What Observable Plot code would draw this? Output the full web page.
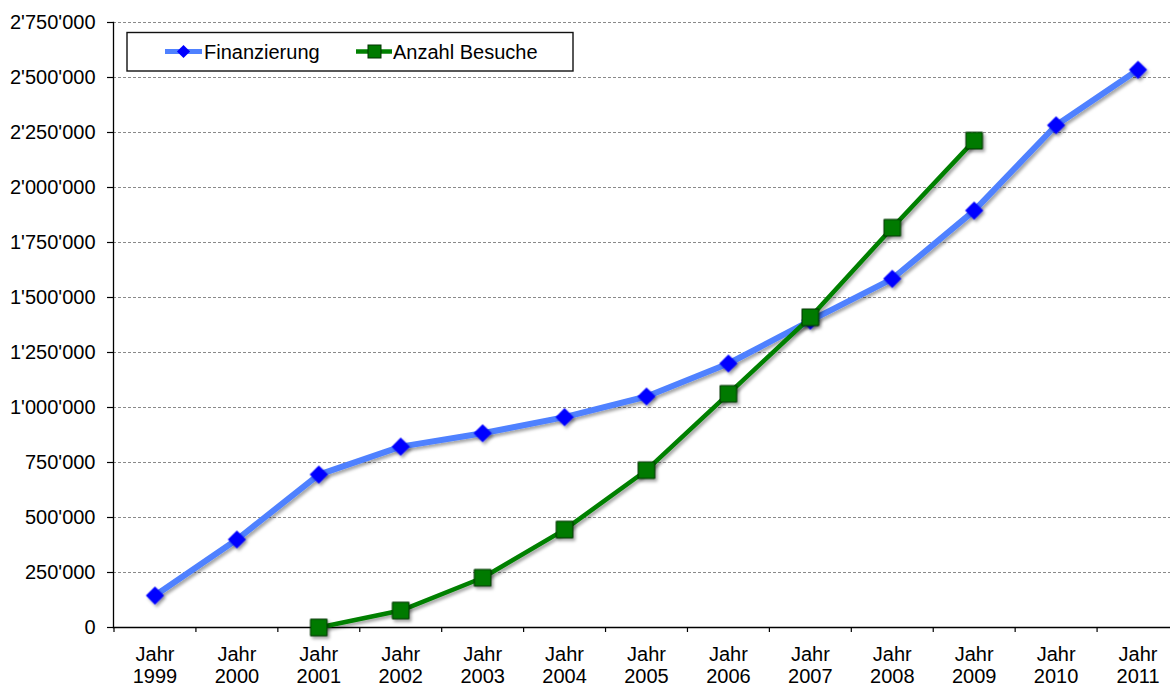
<!DOCTYPE html>
<html>
<head>
<meta charset="utf-8">
<script src="https://cdn.jsdelivr.net/npm/d3@7"></script>
<script src="https://cdn.jsdelivr.net/npm/@observablehq/plot@0.6"></script>
<style>
  html, body { margin: 0; padding: 0; background: #fff; overflow: hidden; }
  #wrap { position: relative; width: 1170px; height: 687px; }
  #legend { position: absolute; left: 0; top: 0; pointer-events: none; }
</style>
</head>
<body>
<div id="wrap"></div>
<script>
// ---- data ----
const years = [1999, 2000, 2001, 2002, 2003, 2004, 2005, 2006, 2007, 2008, 2009, 2010, 2011];
const finanzierung = [145000, 400000, 695000, 822000, 883000, 956000, 1050000, 1200000, 1395000, 1585000, 1895000, 2283000, 2535000];
const besucheYears = [2001, 2002, 2003, 2004, 2005, 2006, 2007, 2008, 2009];
const besuche = [0, 77000, 226000, 445000, 715000, 1062000, 1410000, 1817000, 2213000];
const yTicks = [0, 250000, 500000, 750000, 1000000, 1250000, 1500000, 1750000, 2000000, 2250000, 2500000, 2750000];
const seriesNames = ["Finanzierung", "Anzahl Besuche"];

const finRows = years.map((year, i) => ({year, value: finanzierung[i]}));
const besRows = besucheYears.map((year, i) => ({year, value: besuche[i]}));
const boundaries = [...years.map(y => y - 0.5), years[years.length - 1] + 0.5];
const fmt = d => d3.format(",")(d).replace(/,/g, "'");

const blueLine = "#4f81ff", blueFill = "#0000ff";
const greenLine = "#008000", greenFill = "#007a00", greenStroke = "#003300";

const chart = Plot.plot({
  width: 1170,
  height: 687,
  marginLeft: 113,
  marginRight: 0,
  marginTop: 22,
  marginBottom: 60,
  style: {fontFamily: "'Liberation Sans', Arial, sans-serif", fontSize: "20px", color: "#000", background: "#fff"},
  x: {type: "linear", domain: [years[0] - 0.5, years[years.length - 1] + 0.5], range: [113.5, 1178.5]},
  y: {domain: [yTicks[0], yTicks[yTicks.length - 1]]},
  marks: [
    Plot.gridY(yTicks.slice(1), {stroke: "#8a8a8a", strokeOpacity: 1, strokeDasharray: "3,2", strokeWidth: 1}),
    Plot.axisY(yTicks, {tickSize: 6, tickPadding: 12, tickFormat: fmt, label: null, fontSize: 20, strokeWidth: 1.2}),
    Plot.axisX(boundaries, {tickSize: 5, tickFormat: () => "", label: null, strokeWidth: 1.2}),
    Plot.axisX(years, {tickSize: 0, tickPadding: 18, tickFormat: d => `Jahr\n${d}`, label: null, fontSize: 20, lineHeight: 1.1}),
    Plot.frame({anchor: "left", stroke: "#000", strokeWidth: 1.3}),
    Plot.frame({anchor: "bottom", stroke: "#000", strokeWidth: 1.3}),
    Plot.line(finRows, {x: "year", y: "value", stroke: blueLine, strokeWidth: 6}),
    Plot.dot(finRows, {x: "year", y: "value", symbol: "diamond2", r: 8.2, fill: blueFill, stroke: "none"}),
    Plot.line(besRows, {x: "year", y: "value", stroke: greenLine, strokeWidth: 4.5}),
    Plot.dot(besRows, {x: "year", y: "value", symbol: "square", r: 9.4, fill: greenFill, stroke: greenStroke, strokeWidth: 1})
  ]
});

// drop shadow like the original
const svg = d3.select(chart);
const defs = svg.insert("defs", ":first-child");
const f = defs.append("filter").attr("id", "shadow").attr("x", "-30%").attr("y", "-30%").attr("width", "160%").attr("height", "160%");
f.append("feDropShadow").attr("dx", 2).attr("dy", 2.5).attr("stdDeviation", 1.5).attr("flood-color", "#000").attr("flood-opacity", 0.35);
svg.selectAll('g[aria-label="line"], g[aria-label="dot"]').attr("filter", "url(#shadow)");

document.getElementById("wrap").appendChild(chart);

// legend box (inside plot area, top-left)
const lg = d3.select("#wrap").append("svg")
  .attr("id", "legend").attr("width", 1170).attr("height", 90)
  .style("font-family", "'Liberation Sans', Arial, sans-serif").style("font-size", "20px");
lg.append("rect").attr("x", 127).attr("y", 32.5).attr("width", 446).attr("height", 38.5)
  .attr("fill", "#fff").attr("stroke", "#111").attr("stroke-width", 1.4);
// Finanzierung swatch
lg.append("line").attr("x1", 165).attr("x2", 202).attr("y1", 51.5).attr("y2", 51.5).attr("stroke", blueLine).attr("stroke-width", 5);
lg.append("path").attr("d", d3.symbol(d3.symbolDiamond2, 110)()).attr("transform", "translate(183.5,51.5)").attr("fill", blueFill);
lg.append("text").attr("x", 204).attr("y", 58.5).attr("fill", "#000").text(seriesNames[0]);
// Anzahl Besuche swatch
lg.append("line").attr("x1", 356).attr("x2", 392).attr("y1", 51.5).attr("y2", 51.5).attr("stroke", greenLine).attr("stroke-width", 4.5);
lg.append("rect").attr("x", 368).attr("y", 45).attr("width", 13).attr("height", 13).attr("fill", greenFill).attr("stroke", greenStroke).attr("stroke-width", 1);
lg.append("text").attr("x", 393).attr("y", 58.5).attr("fill", "#000").text(seriesNames[1]);
</script>
</body>
</html>
